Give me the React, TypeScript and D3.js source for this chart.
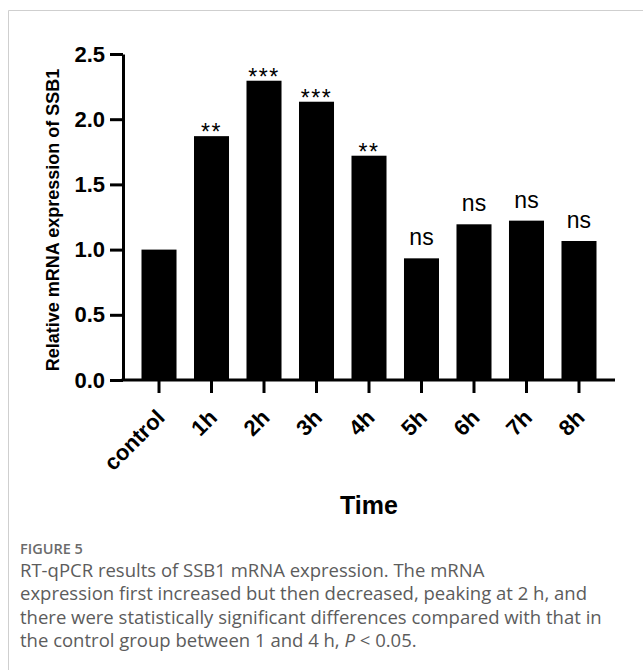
import React, { useEffect, useRef } from "react";
import * as d3 from "d3";

const categories = ["control", "1h", "2h", "3h", "4h", "5h", "6h", "7h", "8h"];
const values = [1.0, 1.87, 2.295, 2.134, 1.72, 0.933, 1.194, 1.222, 1.066];
const significance = ["", "**", "***", "***", "**", "ns", "ns", "ns", "ns"];
const yTicks = [0, 0.5, 1.0, 1.5, 2.0, 2.5];
const yTitle = "Relative mRNA expression of SSB1";
const xTitle = "Time";
const figureLabel = "FIGURE 5";
const captionLines = [
  "RT-qPCR results of SSB1 mRNA expression. The mRNA",
  "expression first increased but then decreased, peaking at 2 h, and",
  "there were statistically significant differences compared with that in",
];
const captionLast = ["the control group between 1 and 4 h, ", "P", " < 0.05."];

const W = 643;
const H = 670;
const CHART_FONT = "Liberation Sans, Arial, Helvetica, sans-serif";
const CAP_FONT = "Open Sans, Noto Sans, sans-serif";

export default function App() {
  const ref = useRef<SVGSVGElement | null>(null);

  useEffect(() => {
    const svg = d3.select(ref.current);
    svg.selectAll("*").remove();

    const axisX0 = 123;
    const axisX1 = 615;
    const y0 = 380;
    const yTop = 54;

    const x = d3
      .scaleBand<string>()
      .domain(categories)
      .range([132.75, 132.75 + 9 * 52.5])
      .paddingInner(0.333)
      .paddingOuter(0.1667);
    const y = d3.scaleLinear().domain([0, 2.5]).range([y0, yTop]);

    // card border
    svg
      .append("path")
      .attr("d", `M8.5,${H + 5} L8.5,10.5 L${W + 5},10.5`)
      .attr("fill", "none")
      .attr("stroke", "#cfcfcf")
      .attr("stroke-width", 1);

    const g = svg.append("g");

    // bars
    g.selectAll("rect.bar")
      .data(values)
      .join("rect")
      .attr("class", "bar")
      .attr("x", (_, i) => x(categories[i])!)
      .attr("width", x.bandwidth())
      .attr("y", (d) => y(d))
      .attr("height", (d) => y0 - y(d))
      .attr("fill", "#000");

    // significance labels
    g.selectAll("text.sig")
      .data(values)
      .join("text")
      .attr("class", "sig")
      .attr("x", (_, i) => x(categories[i])! + x.bandwidth() / 2)
      .attr("y", (d, i) => (significance[i] === "ns" ? y(d) - 13 : y(d) + 4))
      .attr("text-anchor", "middle")
      .attr("font-family", CHART_FONT)
      .attr("font-size", 23)
      .attr("letter-spacing", (_, i) => (significance[i] === "ns" ? 0 : 1.5))
      .attr("fill", "#000")
      .text((_, i) => significance[i]);

    // y axis
    const yAxis = d3
      .axisLeft(y)
      .tickValues(yTicks)
      .tickFormat(d3.format(".1f"))
      .tickSize(13)
      .tickSizeOuter(0)
      .tickPadding(5);
    const ya = g.append("g").attr("transform", `translate(${axisX0},0)`).call(yAxis);
    ya.select(".domain").attr("stroke-width", 3).attr("stroke", "#000");
    ya.selectAll(".tick line").attr("stroke-width", 3).attr("stroke", "#000");
    ya.selectAll(".tick text")
      .attr("font-family", CHART_FONT)
      .attr("font-size", 22)
      .attr("font-weight", "bold")
      .attr("fill", "#000");

    // x axis
    const xAxis = d3.axisBottom(x).tickSize(13).tickSizeOuter(0).tickFormat(() => "");
    const xa = g.append("g").attr("transform", `translate(0,${y0})`).call(xAxis);
    xa.select(".domain")
      .attr("d", `M${axisX0 - 1.5},0H${axisX1}`)
      .attr("stroke-width", 3)
      .attr("stroke", "#000");
    xa.selectAll(".tick line").attr("stroke-width", 3).attr("stroke", "#000");

    g.selectAll("text.xl")
      .data(categories)
      .join("text")
      .attr("class", "xl")
      .attr(
        "transform",
        (d) => `translate(${x(d)! + x.bandwidth() / 2 + 7},${y0 + 39}) rotate(-45)`
      )
      .attr("text-anchor", "end")
      .attr("font-family", CHART_FONT)
      .attr("font-size", 22)
      .attr("font-weight", "bold")
      .attr("fill", "#000")
      .text((d) => d);

    // axis titles
    g.append("text")
      .attr("transform", `translate(59,220) rotate(-90)`)
      .attr("text-anchor", "middle")
      .attr("font-family", CHART_FONT)
      .attr("font-size", 18)
      .attr("font-weight", "bold")
      .attr("fill", "#000")
      .text(yTitle);

    g.append("text")
      .attr("x", (axisX0 + axisX1) / 2)
      .attr("y", 514)
      .attr("text-anchor", "middle")
      .attr("font-family", CHART_FONT)
      .attr("font-size", 25)
      .attr("font-weight", "bold")
      .attr("fill", "#000")
      .text(xTitle);

    // caption
    svg
      .append("text")
      .attr("x", 20)
      .attr("y", 554)
      .attr("font-family", CAP_FONT)
      .attr("font-size", 14.5)
      .attr("font-weight", 600)
      .attr("fill", "#6b6b6b")
      .text(figureLabel);

    captionLines.forEach((line, i) => {
      svg
        .append("text")
        .attr("x", 20)
        .attr("y", 577 + i * 23.3)
        .attr("font-family", CAP_FONT)
        .attr("font-size", 18.5)
        .attr("fill", "#5c5c5c")
        .text(line);
    });
    const last = svg
      .append("text")
      .attr("x", 20)
      .attr("y", 577 + 3 * 23.3)
      .attr("font-family", CAP_FONT)
      .attr("font-size", 18.5)
      .attr("fill", "#5c5c5c");
    captionLast.forEach((part, i) => {
      last
        .append("tspan")
        .attr("font-style", i === 1 ? "italic" : "normal")
        .text(part);
    });
  }, []);

  return (
    <div style={{ position: "absolute", left: 0, top: 0, width: W, height: H, background: "#fff" }}>
      <svg ref={ref} width={W} height={H} style={{ display: "block" }} />
    </div>
  );
}
